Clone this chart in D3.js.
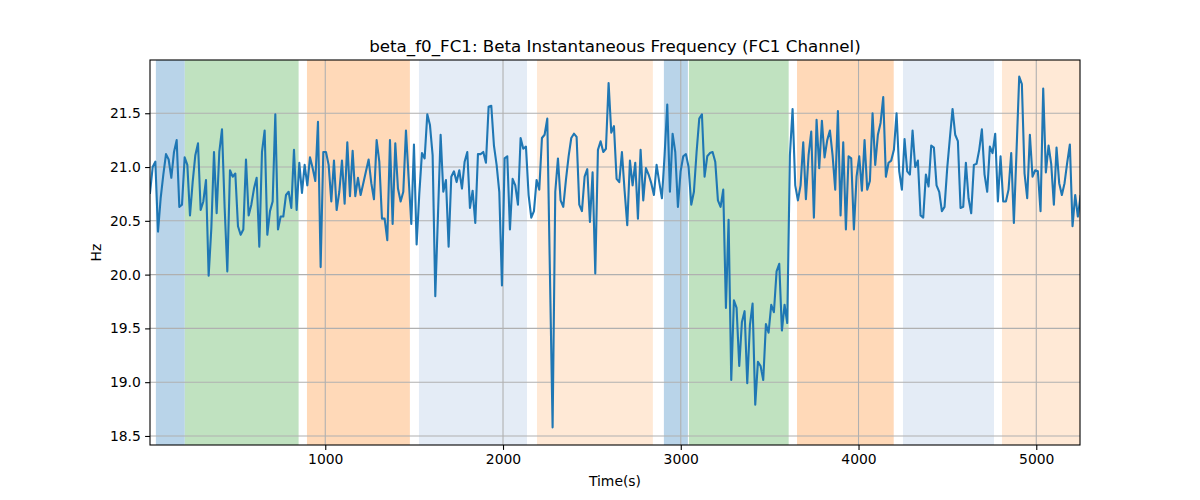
<!DOCTYPE html>
<html>
<head>
<meta charset="utf-8">
<script src="https://cdn.jsdelivr.net/npm/d3@7"></script>
<style>
  html, body { margin: 0; padding: 0; background: #fff; }
  svg { display: block; font-family: "DejaVu Sans", sans-serif; }
</style>
</head>
<body>
<svg id="chart" width="1200" height="500"></svg>
<script>
// ---- data ----
const title = "beta_f0_FC1: Beta Instantaneous Frequency (FC1 Channel)";
const xLabel = "Time(s)";
const yLabel = "Hz";
const tStart = 14;
const tStep = 15;
const freqValues = [
  20.76, 21.00, 21.05, 20.40, 20.71, 20.93, 21.12, 21.07, 20.90, 21.14,
  21.25, 20.63, 20.65, 21.09, 21.02, 20.55, 20.86, 21.11, 21.22, 20.60,
  20.68, 20.88, 19.99, 20.43, 21.14, 20.57, 21.14, 21.35, 20.62, 20.03,
  20.97, 20.91, 20.94, 20.45, 20.37, 20.42, 21.07, 20.55, 20.65, 20.80,
  20.90, 20.26, 21.14, 21.34, 20.37, 20.59,
  20.68, 21.49, 20.42, 20.54, 20.54, 20.74, 20.77, 20.62, 21.16, 20.60,
  21.04, 20.76, 21.02, 20.83, 21.09, 20.99, 20.87, 21.42, 20.07, 21.14,
  21.14, 21.02, 20.68, 21.06, 20.60, 20.77, 21.06, 20.66, 21.23, 20.73,
  21.15, 20.73, 20.90, 20.74, 20.85, 20.96, 21.07, 20.85, 20.70, 21.25,
  21.05, 20.52, 20.52, 20.32, 21.25,
  20.47, 21.22, 20.80, 20.68, 20.77, 21.34, 20.90, 20.47, 21.21, 20.28,
  20.75, 21.13, 21.08, 21.49, 21.39, 21.11, 19.80, 20.55, 21.30, 20.77,
  20.88, 20.26, 20.91, 20.96, 20.86, 20.97, 20.80, 21.05, 21.14, 20.62,
  20.78, 20.48, 21.12, 21.12, 21.14, 21.04, 21.56, 21.57, 21.20, 21.02,
  20.77, 19.90, 21.08, 21.10, 20.42,
  20.89, 20.83, 20.65, 21.27, 21.17, 21.19, 20.74, 20.53, 20.59, 20.88,
  20.79, 21.27, 21.30, 21.45, 20.00, 18.58, 20.77, 21.08, 20.69, 20.63,
  20.88, 21.10, 21.27, 21.31, 21.28, 20.65, 20.59, 20.91, 20.98, 20.49,
  20.95, 20.01, 21.16, 21.24, 21.14, 21.17, 21.78, 21.32, 21.38, 20.89,
  20.86, 21.14, 20.78, 20.46, 21.06,
  20.83, 21.04, 20.52, 21.16, 20.69, 20.99, 20.93, 20.85, 20.74, 21.02,
  20.86, 20.71, 21.11, 21.58, 20.77, 21.31, 21.14, 20.63, 20.96, 21.10,
  21.12, 21.00, 20.65, 20.77, 21.14, 21.45, 21.49, 20.91, 21.10, 21.13,
  21.14, 21.05, 20.69, 20.63, 20.79, 19.69, 20.51, 19.02, 19.76, 19.69,
  19.15, 19.56, 19.66, 18.99, 19.53,
  19.73, 18.79, 19.19, 19.15, 19.02, 19.54, 19.46, 19.72, 19.65, 20.03,
  20.10, 19.48, 19.72, 19.55, 21.11, 21.54, 20.83, 20.69, 20.83, 21.23,
  20.70, 21.11, 21.33, 20.53, 21.44, 20.99, 21.43, 21.09, 21.25, 21.34,
  21.11, 20.79, 21.52, 20.55, 21.23, 20.42, 21.10, 21.08, 20.42, 20.91,
  21.10, 20.78, 21.25, 20.79, 20.87,
  21.50, 21.02, 21.30, 21.41, 21.65, 20.91, 21.04, 21.06, 21.16, 21.50,
  20.96, 20.79, 21.26, 20.96, 20.93, 21.34, 21.00, 21.06, 20.55, 20.53,
  20.93, 20.82, 21.20, 21.18, 20.83, 20.77, 20.59, 20.63, 20.99, 21.27,
  21.54, 21.30, 21.24, 20.62, 20.63, 21.04, 20.71, 20.57, 21.02, 21.03,
  21.16,
  21.35, 20.93, 20.77, 21.19, 21.13, 21.31, 20.68, 21.10, 20.68, 20.68,
  20.79, 21.13, 20.48, 21.15, 21.84, 21.77, 20.94, 20.71, 21.30, 20.91,
  20.97, 20.96, 20.59, 21.73, 20.95, 21.20, 21.03, 20.65, 21.18, 20.85,
  20.74, 20.85, 21.04, 21.21, 20.45, 20.74, 20.54, 20.73
];
const bandStarts = [47, 210, 897, 1527, 2191, 2905, 3046, 3654, 4250, 4807];
const bandEnds   = [210, 850, 1476, 2135, 2843, 3040, 3607, 4198, 4762, 5300];
const bandKinds  = ["blue", "green", "orange", "lightblue", "lightorange",
                    "blue", "green", "orange", "lightblue", "lightorange"];
const xTicks = [1000, 2000, 3000, 4000, 5000];
const yTicks = [18.5, 19.0, 19.5, 20.0, 20.5, 21.0, 21.5];
const xDomain = [14, 5246];
const yDomain = [18.416, 21.995];

// ---- drawing ----
const bandColor = {
  blue: "#b9d4e9", green: "#c0e2c0", orange: "#ffd9b8",
  lightblue: "#e4ecf6", lightorange: "#ffe9d6"
};
const W = 1200, H = 500;
const m = { left: 150, right: 1080, top: 60, bottom: 445 };
const svg = d3.select("#chart");

const times = d3.range(freqValues.length).map(i => tStart + i * tStep);
const points = freqValues.map((v, i) => ({ t: times[i], v }));

const x = d3.scaleLinear().domain(xDomain).range([m.left, m.right]);
const y = d3.scaleLinear().domain(yDomain).range([m.bottom, m.top]);

svg.append("defs").append("clipPath").attr("id", "clip")
  .append("rect").attr("x", m.left).attr("y", m.top)
  .attr("width", m.right - m.left).attr("height", m.bottom - m.top);

const plot = svg.append("g").attr("clip-path", "url(#clip)");

// bands
const bands = bandStarts.map((s, i) => ({ s, e: bandEnds[i], k: bandKinds[i] }));
plot.selectAll("rect.band").data(bands).enter().append("rect")
  .attr("class", "band")
  .attr("x", d => x(d.s))
  .attr("width", d => x(d.e) - x(d.s))
  .attr("y", m.top).attr("height", m.bottom - m.top)
  .attr("fill", d => bandColor[d.k]);

// grid
const gridColor = "#b0b0b0";
plot.selectAll("line.xg").data(xTicks).enter().append("line")
  .attr("x1", d => x(d)).attr("x2", d => x(d))
  .attr("y1", m.top).attr("y2", m.bottom)
  .attr("stroke", gridColor).attr("stroke-width", 1.1);
plot.selectAll("line.yg").data(yTicks).enter().append("line")
  .attr("y1", d => y(d)).attr("y2", d => y(d))
  .attr("x1", m.left).attr("x2", m.right)
  .attr("stroke", gridColor).attr("stroke-width", 1.1);

// line
const line = d3.line().x(d => x(d.t)).y(d => y(d.v));
plot.append("path").datum(points)
  .attr("d", line)
  .attr("fill", "none")
  .attr("stroke", "#1f77b4")
  .attr("stroke-width", 2.1)
  .attr("stroke-linejoin", "round")
  .attr("stroke-linecap", "square");

// axes
const xAxis = d3.axisBottom(x).tickValues(xTicks).tickSize(4.9).tickPadding(4.3)
  .tickFormat(d3.format("d"));
const yAxis = d3.axisLeft(y).tickValues(yTicks).tickSize(4.9).tickPadding(4.3)
  .tickFormat(d3.format(".1f"));

const gx = svg.append("g").attr("transform", `translate(0,${m.bottom})`).call(xAxis);
const gy = svg.append("g").attr("transform", `translate(${m.left},0)`).call(yAxis);
[gx, gy].forEach(g => {
  g.select(".domain").remove();
  g.selectAll(".tick line").attr("stroke", "#000").attr("stroke-width", 1.1);
  g.selectAll(".tick text").attr("fill", "#000")
    .style("font-size", "13.9px").style("font-family", "DejaVu Sans, sans-serif");
});

// frame
svg.append("rect")
  .attr("x", m.left).attr("y", m.top)
  .attr("width", m.right - m.left).attr("height", m.bottom - m.top)
  .attr("fill", "none").attr("stroke", "#000").attr("stroke-width", 1.1);

// labels
svg.append("text").attr("x", (m.left + m.right) / 2).attr("y", 51.5)
  .attr("text-anchor", "middle").style("font-size", "16.7px").text(title);
svg.append("text").attr("x", (m.left + m.right) / 2).attr("y", 486)
  .attr("text-anchor", "middle").style("font-size", "13.9px").text(xLabel);
svg.append("text")
  .attr("transform", `translate(101,${(m.top + m.bottom) / 2}) rotate(-90)`)
  .attr("text-anchor", "middle").style("font-size", "13.9px").text(yLabel);
</script>
</body>
</html>
